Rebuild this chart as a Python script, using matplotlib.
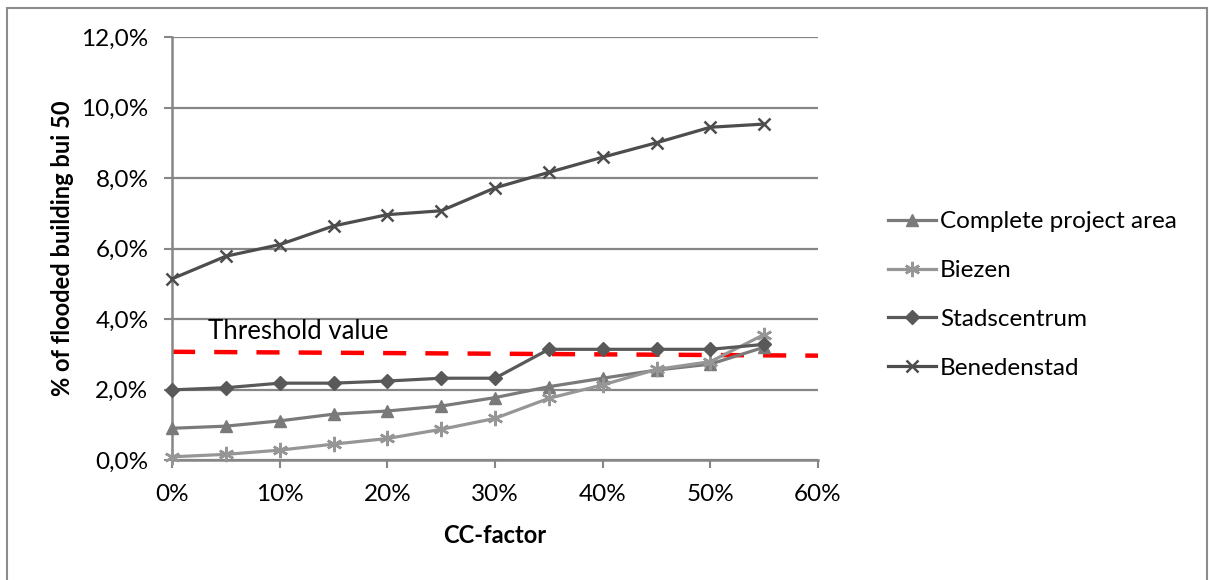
import matplotlib
matplotlib.use("Agg")
import matplotlib.pyplot as plt
from matplotlib.ticker import FuncFormatter, MultipleLocator
from matplotlib.patches import Rectangle

plt.rcParams['font.family'] = ['Lato', 'DejaVu Sans']

cc_factor = [0, 5, 10, 15, 20, 25, 30, 35, 40, 45, 50, 55]
complete_area = [0.90, 0.96, 1.11, 1.30, 1.39, 1.53, 1.77, 2.08, 2.32, 2.55, 2.72, 3.20]
biezen = [0.09, 0.16, 0.28, 0.45, 0.61, 0.87, 1.18, 1.75, 2.13, 2.57, 2.79, 3.56]
stadscentrum = [1.99, 2.05, 2.18, 2.18, 2.24, 2.32, 2.32, 3.14, 3.14, 3.14, 3.14, 3.28]
benedenstad = [5.14, 5.78, 6.11, 6.64, 6.96, 7.07, 7.72, 8.16, 8.59, 9.00, 9.44, 9.53]
threshold_x = [0, 60]
threshold_y = [3.07, 2.96]

grid_col = '#868686'
fs = 17.5

fig = plt.figure(figsize=(12.09, 5.80), dpi=100)
fig.patches.append(Rectangle((7 / 1209, -0.05), 1200 / 1209, 1 - 8 / 580 + 0.05,
                             transform=fig.transFigure, fill=False,
                             edgecolor='#8c8c8c', linewidth=1.5))
ax = fig.add_axes([172 / 1209, 1 - 460 / 580, 646 / 1209, 423 / 580])

series = [
    ('Complete project area', complete_area, '#7a7a7a', dict(marker='^', markersize=9)),
    ('Biezen', biezen, '#969696', dict(marker=(6, 2, 0), markersize=11, markeredgewidth=1.8)),
    ('Stadscentrum', stadscentrum, '#595959', dict(marker='D', markersize=7.5)),
    ('Benedenstad', benedenstad, '#4d4d4d', dict(marker='x', markersize=9, markeredgewidth=1.8)),
]
for name, vals, col, mk in series:
    ax.plot(cc_factor, vals, color=col, linewidth=2.3, label=name,
            markerfacecolor=col, markeredgecolor=col, zorder=3, clip_on=False, **mk)

ax.plot(threshold_x, threshold_y, color='#ff0000', linewidth=3.2,
        dashes=(5.2, 4.3), zorder=2, clip_on=False)
ax.text(3.3, 3.3, 'Threshold value', fontsize=18.5, color='black', va='bottom', ha='left')

ax.set_xlim(0, 60)
ax.set_ylim(0, 12)
ax.xaxis.set_major_locator(MultipleLocator(10))
ax.yaxis.set_major_locator(MultipleLocator(2))
ax.xaxis.set_major_formatter(FuncFormatter(lambda v, p: f'{v:.0f}%'))
ax.yaxis.set_major_formatter(FuncFormatter(lambda v, p: f'{v:.1f}%'.replace('.', ',')))
ax.grid(axis='y', color=grid_col, linewidth=1.6)
ax.set_axisbelow(True)
for s in ['top', 'right']:
    ax.spines[s].set_visible(False)
for s in ['left', 'bottom']:
    ax.spines[s].set_color(grid_col)
    ax.spines[s].set_linewidth(1.8)
ax.tick_params(axis='both', colors=grid_col, labelcolor='black', labelsize=fs,
               length=6, width=1.5, direction='out')
ax.tick_params(axis='y', pad=11)
ax.tick_params(axis='x', pad=11)

ax.set_xlabel('CC-factor', fontsize=17, fontweight='bold', labelpad=14)
ax.set_ylabel('% of flooded building bui 50', fontsize=17, fontweight='bold', labelpad=5)

ax.legend(loc='center left', bbox_to_anchor=(866 / 1209, 1 - 295 / 580),
          bbox_transform=fig.transFigure, frameon=False, fontsize=fs,
          handlelength=2.0, handletextpad=0.15, labelspacing=1.15)

fig.savefig('out.png', dpi=100, facecolor='white')
